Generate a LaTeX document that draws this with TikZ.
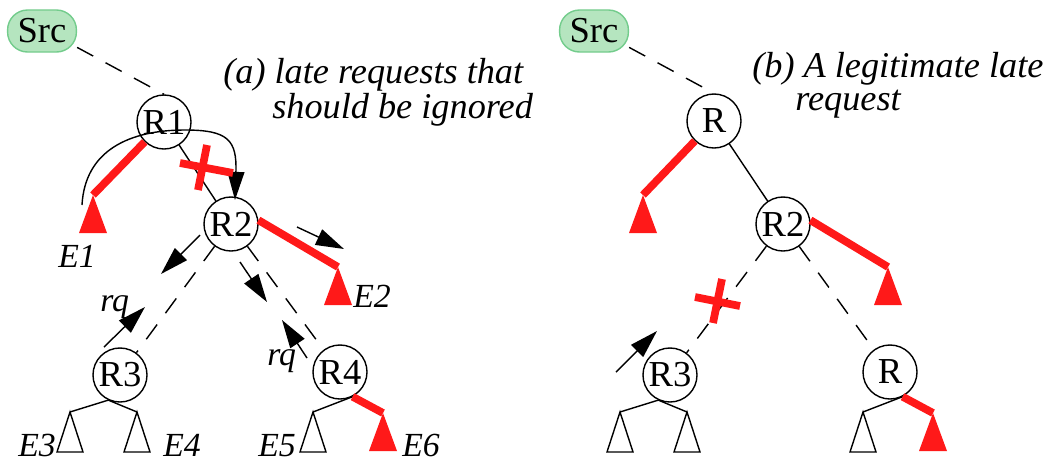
\documentclass[tikz,border=0pt]{standalone}
\usepackage{fontspec}
\setmainfont{Liberation Serif}
\usetikzlibrary{arrows.meta}

\definecolor{srcfill}{rgb}{0.71,0.9,0.75}
\definecolor{srcedge}{rgb}{0.45,0.8,0.55}
\definecolor{prunered}{rgb}{1.0,0.1,0.1}

\tikzset{
  router/.style={draw,circle,line width=1pt,minimum size=1.35cm,inner sep=0,font=\fontsize{26}{30}\selectfont},
  srcbox/.style={draw=srcedge,fill=srcfill,line width=1pt,rounded corners=0.5cm,minimum width=1.72cm,minimum height=1.05cm,inner sep=0,font=\fontsize{26}{30}\selectfont},
  treelink/.style={line width=1pt},
  dashlink/.style={line width=1pt,dash pattern=on 13pt off 10pt},
  prunedlink/.style={prunered,line width=5.5pt},
  cutmark/.style={prunered,line width=5.5pt},
  msgarrow/.style={line width=1pt,-{Triangle[length=20pt,width=12pt]}},
  leaflabel/.style={inner sep=0,font=\fontsize{24}{28}\selectfont\itshape},
  caption/.style={inner sep=0,align=left,font=\fontsize{25.8}{22.8}\selectfont\itshape},
  redleaf/.pic={\fill[prunered] (0,0) -- (-14,38) -- (14,38) -- cycle;},
  openleaf/.pic={\draw[line width=1pt,fill=white] (0,0) -- (-13,40) -- (13,40) -- cycle;}
}

\begin{document}
\begin{tikzpicture}[x=0.025cm,y=-0.025cm]
\useasboundingbox (0,0) rectangle (1044,462);

% (a) late requests that should be ignored
\node[srcbox] (srcA) at (42,31) {Src};
\node[router] (r1A) at (164,122) {R1};
\node[router] (r2A) at (231,224) {R2};
\node[router] (r3A) at (120,375) {R3};
\node[router] (r4A) at (340,372) {R4};
\coordinate (e1A) at (93,195);
\coordinate (e2A) at (338,267);
\coordinate (e3A) at (70,412);
\coordinate (e4A) at (137,412);
\coordinate (e5A) at (313,412);
\coordinate (e6A) at (383,413);

\draw[dashlink] (srcA.-25) -- (r1A.north);
\draw[treelink] (r1A) -- (r2A);
\draw[dashlink] (r2A) -- (r3A);
\draw[dashlink] (r2A) -- (r4A);
\draw[prunedlink] (r1A) -- (e1A);
\draw[prunedlink] (r2A.8) -- (e2A);
\draw[treelink] (r3A.-115) -- (e3A);
\draw[treelink] (r3A.-115) -- (e4A);
\draw[treelink] (r4A.-63) -- (e5A);
\draw[prunedlink] (r4A.-63) -- (e6A);
\pic at (e1A) {redleaf};
\pic at (e2A) {redleaf};
\pic at (e3A) {openleaf};
\pic at (e4A) {openleaf};
\pic at (e5A) {openleaf};
\pic at (e6A) {redleaf};

\node[leaflabel,anchor=base west] (l1A) at (58,267) {E1};
\node[leaflabel,anchor=base west] (l2A) at (353,307) {E2};
\node[leaflabel,anchor=base west] (l3A) at (18,456) {E3};
\node[leaflabel,anchor=base west] (l4A) at (163,456) {E4};
\node[leaflabel,anchor=base west] (l5A) at (258,456) {E5};
\node[leaflabel,anchor=base west] (l6A) at (402,456) {E6};
\node[leaflabel,anchor=base west] (rq3A) at (100,311) {rq};
\node[leaflabel,anchor=base west] (rq4A) at (267,365) {rq};

% late requests and the join that is cut
\coordinate (bendA0) at (82,205);
\coordinate (bendA1) at (185,130);
\coordinate (bendA2) at (235,200);
\draw[msgarrow] (bendA0) .. controls (85,150) and (130,130) .. (bendA1) .. controls (228,130) and (237,140) .. (bendA2);
\draw[cutmark] (180,163) -- (233,173);
\draw[cutmark] (207,145) -- (198,190);

\coordinate (sA1) at (200,235); \coordinate (tA1) at (161,274);
\coordinate (sA2) at (297,227); \coordinate (tA2) at (344,249);
\coordinate (sA3) at (240,262); \coordinate (tA3) at (267,302);
\coordinate (sA4) at (104,347); \coordinate (tA4) at (145,307);
\coordinate (sA5) at (307,358); \coordinate (tA5) at (282,320);
\draw[msgarrow] (sA1) -- (tA1);
\draw[msgarrow] (sA2) -- (tA2);
\draw[msgarrow] (sA3) -- (tA3);
\draw[msgarrow] (sA4) -- (tA4);
\draw[msgarrow] (sA5) -- (tA5);

\node[caption,anchor=base west] (capA) at (223,118) {(a) late requests that\\\hspace*{1.225cm}should be ignored};

% (b) a legitimate late request
\node[srcbox] (srcB) at (594,31) {Src};
\node[router] (r1B) at (714,121) {R};
\node[router] (r2B) at (783,224) {R2};
\node[router] (r3B) at (670,375) {R3};
\node[router] (r4B) at (890,372) {R};
\coordinate (e1B) at (643,195);
\coordinate (e2B) at (888,267);
\coordinate (e3B) at (620,412);
\coordinate (e4B) at (687,412);
\coordinate (e5B) at (863,412);
\coordinate (e6B) at (933,413);

\draw[dashlink] (srcB.-25) -- (r1B.north);
\draw[treelink] (r1B) -- (r2B);
\draw[dashlink] (r2B) -- (r3B);
\draw[dashlink] (r2B) -- (r4B);
\draw[prunedlink] (r1B) -- (e1B);
\draw[prunedlink] (r2B.8) -- (e2B);
\draw[treelink] (r3B.-115) -- (e3B);
\draw[treelink] (r3B.-115) -- (e4B);
\draw[treelink] (r4B.-63) -- (e5B);
\draw[prunedlink] (r4B.-63) -- (e6B);
\pic at (e1B) {redleaf};
\pic at (e2B) {redleaf};
\pic at (e3B) {openleaf};
\pic at (e4B) {openleaf};
\pic at (e5B) {openleaf};
\pic at (e6B) {redleaf};

\coordinate (sB1) at (616,372); \coordinate (tB1) at (657,331);
\draw[msgarrow] (sB1) -- (tB1);
\draw[cutmark] (695,297) -- (740,306);
\draw[cutmark] (722,279) -- (713,323);

\node[caption,anchor=base west] (capB) at (752,110) {(b) A legitimate late\\\hspace*{1.075cm}request};
\end{tikzpicture}
\end{document}
